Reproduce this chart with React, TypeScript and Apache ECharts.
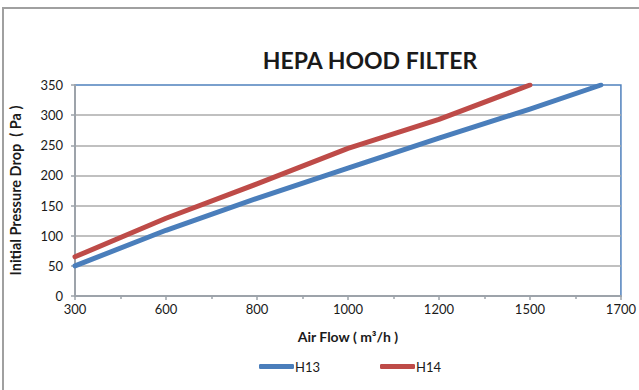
import React, { useEffect, useRef } from "react";
import * as echarts from "echarts";

const xTickLabels = ["300", "600", "800", "1000", "1200", "1500", "1700"];
const h13Positions = [0, 1, 2, 3, 4, 5, 5.78];
const h13Values = [50, 109, 162, 212, 262, 310, 350];
const h14Positions = [0, 1, 2, 3, 4, 5];
const h14Values = [65, 129, 186, 245, 293, 350];
const yTicks = { min: 0, max: 350, interval: 50 };

const FONT = "Lato";
const TEXT = "#1a1a1a";

export default function App() {
  const ref = useRef<HTMLDivElement>(null);
  useEffect(() => {
    if (!ref.current) return;
    const chart = echarts.init(ref.current, undefined, { renderer: "svg" });
    const pair = (xs: number[], ys: number[]) => xs.map((x, i) => [x, ys[i]]);
    chart.setOption({
      animation: false,
      backgroundColor: "#ffffff",
      textStyle: { fontFamily: FONT },
      graphic: [
        {
          type: "rect",
          shape: { x: 3, y: 8, width: 700, height: 500 },
          style: { fill: "none", stroke: "#A0A0A0", lineWidth: 2 },
          silent: true,
        },
        {
          type: "text",
          x: 370,
          y: 60,
          style: {
            text: "HEPA HOOD FILTER",
            fontFamily: FONT,
            fontWeight: "bold",
            fontSize: 23,
            fill: TEXT,
            textAlign: "center",
            textVerticalAlign: "middle",
          },
        },
      ],
      grid: {
        left: 71,
        right: 16,
        top: 85,
        bottom: 94,
        show: true,
        borderColor: "#4F81BD",
        borderWidth: 1.5,
        backgroundColor: "transparent",
      },
      legend: {
        left: 254,
        top: 355,
        icon: "roundRect",
        itemWidth: 35,
        itemHeight: 5,
        itemGap: 60,
        textStyle: { fontFamily: FONT, fontSize: 13, color: TEXT, padding: [0, 0, 0, -4] },
        data: ["H13", "H14"],
      },
      xAxis: {
        type: "value",
        min: 0,
        max: 6,
        interval: 1,
        name: "Air Flow ( m³/h )",
        nameLocation: "middle",
        nameGap: 33,
        nameTextStyle: { fontFamily: FONT, fontWeight: "bold", fontSize: 14, color: TEXT },
        axisLine: { show: true, lineStyle: { color: "#9DA3AA", width: 2 } },
        axisTick: { show: true, length: 4, lineStyle: { color: "#9DA3AA", width: 1.5 } },
        minorTick: { show: true, splitNumber: 2, length: 3, lineStyle: { color: "#9DA3AA", width: 1.5 } },
        splitLine: { show: false },
        axisLabel: {
          fontFamily: FONT,
          fontSize: 13,
          color: TEXT,
          margin: 6,
          formatter: (v: number) => xTickLabels[Math.round(v)] ?? "",
        },
      },
      yAxis: {
        type: "value",
        min: yTicks.min,
        max: yTicks.max,
        interval: yTicks.interval,
        name: "Initial Pressure Drop  ( Pa )",
        nameLocation: "middle",
        nameGap: 52,
        nameRotate: 90,
        nameTextStyle: { fontFamily: FONT, fontWeight: "bold", fontSize: 14.5, color: TEXT },
        axisLine: { show: true, lineStyle: { color: "#9DA3AA", width: 2 } },
        axisTick: { show: true, length: 4, lineStyle: { color: "#9DA3AA", width: 1.5 } },
        splitLine: { show: true, showMaxLine: false, lineStyle: { color: "#ABABAB", width: 1.5 } },
        axisLabel: { fontFamily: FONT, fontSize: 13, color: TEXT, margin: 12 },
      },
      series: [
        {
          name: "H13",
          type: "line",
          data: pair(h13Positions, h13Values),
          showSymbol: false,
          symbol: "none",
          color: "#4A7EBB",
          lineStyle: { width: 5, color: "#4A7EBB", cap: "round", join: "round" },
          itemStyle: { color: "#4A7EBB" },
          z: 3,
        },
        {
          name: "H14",
          type: "line",
          data: pair(h14Positions, h14Values),
          showSymbol: false,
          symbol: "none",
          color: "#BE4B48",
          lineStyle: { width: 5, color: "#BE4B48", cap: "round", join: "round" },
          itemStyle: { color: "#BE4B48" },
          z: 4,
        },
      ],
    });
    return () => chart.dispose();
  }, []);
  return (
    <div
      ref={ref}
      style={{ position: "absolute", left: 0, top: 0, width: 639, height: 390 }}
    />
  );
}
